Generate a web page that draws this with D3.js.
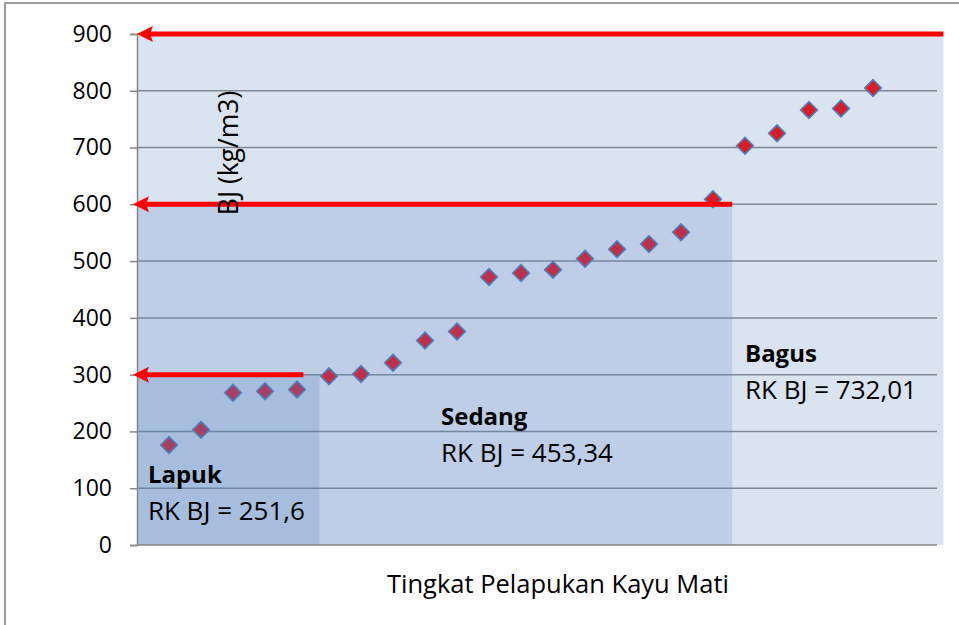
<!DOCTYPE html>
<html>
<head>
<meta charset="utf-8">
<script src="https://cdn.jsdelivr.net/npm/d3@7"></script>
<style>
  body { margin: 0; background: #fff; }
  text { font-family: "Open Sans", "Noto Sans", sans-serif; fill: #000; }
</style>
</head>
<body>
<div id="chart"></div>
<script>
// BJ per sample, sorted
const bjValues = [176, 203, 268, 271, 274, 297, 301, 321, 360, 376, 472, 479, 485,
                  504, 521, 530, 551, 609, 703, 725, 766, 769, 805];
const sampleNo = bjValues.map((d, i) => i + 1);
const yTicks = [0, 100, 200, 300, 400, 500, 600, 700, 800, 900];

// decay classes
const classNames = ["Lapuk", "Sedang", "Bagus"];
const classMeans = ["RK BJ = 251,6", "RK BJ = 453,34", "RK BJ = 732,01"];
const classTop = [300, 600, 903];      // upper BJ bound of each shaded band
const classEdge = [5.7, 18.6, 25.2];   // right edge of band, in sample units
const arrowLevel = [300, 600, 900];
const arrowFrom = [5.2, 18.6, 25.2];

const width = 959, height = 625;

const svg = d3.select("#chart").append("svg")
    .attr("width", width)
    .attr("height", height);

// outer chart frame
svg.append("rect")
    .attr("x", 5).attr("y", 3)
    .attr("width", 970).attr("height", 640)
    .attr("fill", "#fff")
    .attr("stroke", "#9d9d9d")
    .attr("stroke-width", 2);

const x = d3.scaleLinear().domain([0, 25]).range([137, 937]);
const y = d3.scaleLinear().domain([0, 900]).range([545, 34]);

// gridlines
svg.append("g")
    .selectAll("line")
    .data(yTicks.slice(1))
    .enter().append("line")
    .attr("x1", x(0)).attr("x2", x(25))
    .attr("y1", d => y(d)).attr("y2", d => y(d))
    .attr("stroke", "#8c8c8c")
    .attr("stroke-width", 1.5);

// points
svg.append("g")
    .selectAll("path")
    .data(bjValues)
    .enter().append("path")
    .attr("d", d3.symbol(d3.symbolSquare, 140))
    .attr("transform", (d, i) => `translate(${x(sampleNo[i])},${y(d)}) rotate(45)`)
    .attr("fill", "#ff0000")
    .attr("stroke", "#4f81bd")
    .attr("stroke-width", 1.6);

// translucent class bands, widest first
const bands = classNames.map((n, i) => ({ top: classTop[i], edge: classEdge[i] })).reverse();
svg.append("g")
    .selectAll("rect")
    .data(bands)
    .enter().append("rect")
    .attr("x", x(0))
    .attr("y", d => y(d.top))
    .attr("width", d => x(d.edge) - x(0))
    .attr("height", d => y(0) - y(d.top))
    .attr("fill", "#4f81bd")
    .attr("fill-opacity", 0.21);

// y axis
const yAxis = svg.append("g")
    .attr("transform", `translate(${x(0)},0)`)
    .call(d3.axisLeft(y).tickValues(yTicks).tickSize(7).tickPadding(18));
yAxis.select(".domain").attr("stroke", "#868686").attr("stroke-width", 1.5);
yAxis.selectAll(".tick line").attr("stroke", "#868686").attr("stroke-width", 1.5);
yAxis.selectAll(".tick text")
    .attr("font-size", 23)
    .attr("font-family", "Open Sans, sans-serif")
    .attr("fill", "#000");

// x axis line
svg.append("line")
    .attr("x1", x(0)).attr("x2", x(25))
    .attr("y1", y(0)).attr("y2", y(0))
    .attr("stroke", "#868686")
    .attr("stroke-width", 1.5);

svg.append("text")
    .attr("x", 558).attr("y", 593)
    .attr("text-anchor", "middle")
    .attr("font-size", 25.5)
    .text("Tingkat Pelapukan Kayu Mati");

// class labels
const labelAt = [[0.34, 109], [9.5, 211], [19, 322]];
classNames.forEach((n, i) => {
    const lx = x(labelAt[i][0]), ly = y(labelAt[i][1]);
    svg.append("text")
        .attr("x", lx).attr("y", ly)
        .attr("font-size", 24)
        .attr("font-weight", "bold")
        .text(n);
    svg.append("text")
        .attr("x", lx).attr("y", ly + 37)
        .attr("font-size", 26)
        .text(classMeans[i]);
});

// red arrows pointing at the y axis
const arrows = svg.append("g");
arrowLevel.forEach((v, i) => {
    const yy = y(v);
    const tip = i === 2 ? x(0) : x(0) - 4;
    arrows.append("line")
        .attr("x1", x(arrowFrom[i])).attr("x2", tip + 12)
        .attr("y1", yy).attr("y2", yy)
        .attr("stroke", "#ff0000")
        .attr("stroke-width", 5);
    arrows.append("path")
        .attr("d", `M${tip},${yy} L${tip + 16},${yy - 8} L${tip + 13},${yy} L${tip + 16},${yy + 8} Z`)
        .attr("fill", "#ff0000");
});

// y axis title sits on top of the arrows
svg.append("text")
    .attr("transform", "translate(229,153) rotate(-90)")
    .attr("text-anchor", "middle")
    .attr("dy", "0.35em")
    .attr("font-size", 26.5)
    .text("BJ (kg/m3)");
</script>
</body>
</html>
